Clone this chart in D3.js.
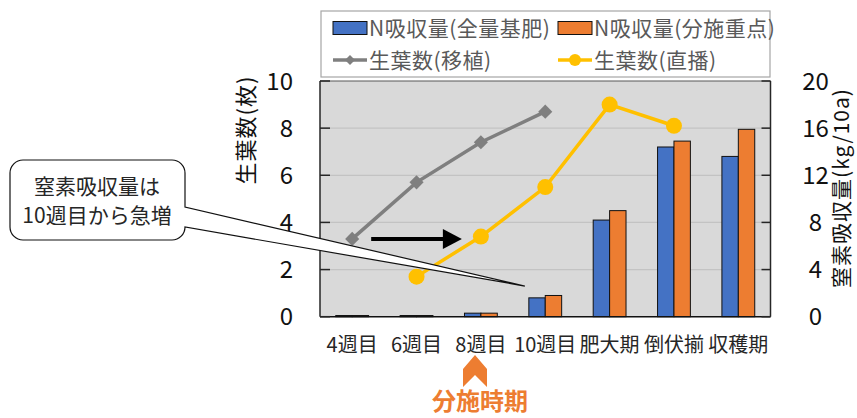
<!DOCTYPE html>
<html>
<head>
<meta charset="utf-8">
<script src="https://cdn.jsdelivr.net/npm/d3@7"></script>
<style>
  body { margin: 0; background: #fff; }
  text { font-family: "Noto Sans CJK JP", "Noto Sans", sans-serif; }
</style>
</head>
<body>
<svg id="vis-svg"></svg>
<script>
// categories and series
const categories = ["4週目", "6週目", "8週目", "10週目", "肥大期", "倒伏揃", "収穫期"];
const nBasal = [0.1, 0.1, 0.3, 1.6, 8.2, 14.4, 13.6];      // N吸収量(全量基肥) kg/10a
const nSplit = [0.1, 0.1, 0.3, 1.8, 9.0, 14.9, 15.9];      // N吸収量(分施重点) kg/10a
const leavesTransplant = [3.3, 5.7, 7.4, 8.7, null, null, null];  // 生葉数(移植)
const leavesDirect = [null, 1.7, 3.4, 5.5, 9.0, 8.1, null];       // 生葉数(直播)
const leftTicks = [0, 2, 4, 6, 8, 10];
const rightTicks = [0, 4, 8, 12, 16, 20];

const W = 857, H = 418;
const margin = {top: 81, left: 320},
      width = 450.5,
      height = 235.7;

const svg = d3.select("#vis-svg").attr("width", W).attr("height", H);
const g = svg.append("g").attr("transform", "translate(" + margin.left + "," + margin.top + ")");

// scales
const x0 = d3.scaleBand().domain(categories).range([0, width]).paddingInner(0.49).paddingOuter(0.245);
const x1 = d3.scaleBand().domain(["basal", "split"]).range([0, x0.bandwidth()]);
const yL = d3.scaleLinear().domain([0, 10]).range([height, 0]);
const yR = d3.scaleLinear().domain([0, 20]).range([height, 0]);
const xc = c => x0(c) + x0.bandwidth() / 2;

// plot area
g.append("rect").attr("width", width).attr("height", height).attr("fill", "#d9d9d9");

// gridlines
g.selectAll(".grid")
    .data(leftTicks.filter(d => d > 0 && d < 10))
  .enter().append("line")
    .attr("x1", 0).attr("x2", width)
    .attr("y1", d => yL(d)).attr("y2", d => yL(d))
    .attr("stroke", "#c3c3c3").attr("stroke-width", 1.2);

// bars
const barData = categories.map((c, i) => ({cat: c, vals: [{k: "basal", v: nBasal[i]}, {k: "split", v: nSplit[i]}]}));
const colors = {basal: "#4472C4", split: "#ED7D31"};
g.selectAll(".grp")
    .data(barData)
  .enter().append("g")
    .attr("transform", d => "translate(" + x0(d.cat) + ",0)")
  .selectAll("rect")
    .data(d => d.vals)
  .enter().append("rect")
    .attr("x", d => x1(d.k))
    .attr("y", d => yR(d.v))
    .attr("width", x1.bandwidth())
    .attr("height", d => height - yR(d.v))
    .attr("fill", d => colors[d.k])
    .attr("stroke", "#111").attr("stroke-width", 1);

// border / axes
g.append("line").attr("x1", 0).attr("x2", width).attr("y1", 0).attr("y2", 0).attr("stroke", "#595959").attr("stroke-width", 1.2);
g.append("line").attr("x1", 0).attr("x2", 0).attr("y1", 0).attr("y2", height).attr("stroke", "#262626").attr("stroke-width", 1.5);
g.append("line").attr("x1", width).attr("x2", width).attr("y1", 0).attr("y2", height).attr("stroke", "#262626").attr("stroke-width", 1.5);
g.append("line").attr("x1", 0).attr("x2", width).attr("y1", height).attr("y2", height).attr("stroke", "#111").attr("stroke-width", 1.5);

// inward ticks
g.selectAll(".tl").data(leftTicks).enter().append("line")
    .attr("x1", 0).attr("x2", 10).attr("y1", d => yL(d)).attr("y2", d => yL(d))
    .attr("stroke", "#262626").attr("stroke-width", 1.5);
g.selectAll(".tr").data(rightTicks).enter().append("line")
    .attr("x1", width - 9).attr("x2", width).attr("y1", d => yR(d)).attr("y2", d => yR(d))
    .attr("stroke", "#262626").attr("stroke-width", 1.5);

// tick labels
g.selectAll(".ll").data(leftTicks).enter().append("text")
    .attr("x", -27).attr("y", d => yL(d)).attr("dy", "0.36em")
    .attr("text-anchor", "end").attr("font-size", 24).attr("fill", "#111")
    .text(d => d);
g.selectAll(".rl").data(rightTicks).enter().append("text")
    .attr("x", width + 45).attr("y", d => yR(d)).attr("dy", "0.36em")
    .attr("text-anchor", "middle").attr("font-size", 24).attr("fill", "#111")
    .text(d => d);
g.selectAll(".xl").data(categories).enter().append("text")
    .attr("x", d => xc(d)).attr("y", height + 35)
    .attr("text-anchor", "middle").attr("font-size", 20).attr("fill", "#262626")
    .text(d => d);

// axis titles
svg.append("text")
    .attr("transform", "translate(254,130) rotate(-90)")
    .attr("text-anchor", "middle").attr("font-size", 22).attr("fill", "#111")
    .attr("letter-spacing", 1)
    .text("生葉数(枚)");
svg.append("text")
    .attr("transform", "translate(849,188) rotate(-90)")
    .attr("text-anchor", "middle").attr("font-size", 21).attr("fill", "#111")
    .attr("letter-spacing", 1)
    .text("窒素吸収量(kg/10a)");

// callout bubble (drawn under the lines)
const bx0 = 10, by0 = 160, bx1 = 185, by1 = 240, r = 13;
const tipX = x0("10週目") - 4 + margin.left, tipY = yR(2.6) + margin.top;
svg.append("path")
    .attr("d", "M" + (bx0 + r) + "," + by0 + " H" + (bx1 - r) +
        " A" + r + "," + r + " 0 0 1 " + bx1 + "," + (by0 + r) +
        " V207 L" + tipX + "," + tipY + " L" + bx1 + ",227" +
        " V" + (by1 - r) + " A" + r + "," + r + " 0 0 1 " + (bx1 - r) + "," + by1 +
        " H" + (bx0 + r) + " A" + r + "," + r + " 0 0 1 " + bx0 + "," + (by1 - r) +
        " V" + (by0 + r) + " A" + r + "," + r + " 0 0 1 " + (bx0 + r) + "," + by0 + " Z")
    .attr("fill", "#fff").attr("stroke", "#111").attr("stroke-width", 1.2);
svg.append("text").attr("x", 97).attr("y", 194).attr("text-anchor", "middle")
    .attr("font-size", 21).attr("fill", "#262626").text("窒素吸収量は");
svg.append("text").attr("x", 97).attr("y", 223).attr("text-anchor", "middle")
    .attr("font-size", 21).attr("fill", "#262626").text("10週目から急増");

// lines
function drawLine(vals, color, marker) {
    const pts = categories.map((c, i) => ({cat: c, v: vals[i]})).filter(d => d.v != null);
    const line = d3.line().x(d => xc(d.cat)).y(d => yL(d.v));
    g.append("path").datum(pts).attr("d", line)
        .attr("fill", "none").attr("stroke", color).attr("stroke-width", 3.5);
    if (marker === "diamond") {
        g.selectAll(null).data(pts).enter().append("path")
            .attr("d", d3.symbol(d3.symbolSquare, 100))
            .attr("transform", d => "translate(" + xc(d.cat) + "," + yL(d.v) + ") rotate(45)")
            .attr("fill", color);
    } else {
        g.selectAll(null).data(pts).enter().append("circle")
            .attr("cx", d => xc(d.cat)).attr("cy", d => yL(d.v)).attr("r", 8)
            .attr("fill", color);
    }
}
drawLine(leavesTransplant, "#7f7f7f", "diamond");
drawLine(leavesDirect, "#FFC000", "circle");

// black arrow (移植 -> 直播 shift)
const ay = yL(leavesTransplant[0]);
const ax1 = xc("4週目") + 19, ax2 = xc("8週目") - 19;
g.append("line").attr("x1", ax1).attr("x2", ax2 - 17).attr("y1", ay).attr("y2", ay)
    .attr("stroke", "#000").attr("stroke-width", 4);
g.append("path")
    .attr("d", "M" + ax2 + "," + ay + " L" + (ax2 - 19) + "," + (ay - 10) + " L" + (ax2 - 19) + "," + (ay + 10) + " Z")
    .attr("fill", "#000");

// orange marker under 8週目
svg.append("path")
    .attr("d", "M475,355 L487,369 L487,387 L475,375 L463,387 L463,369 Z")
    .attr("fill", "#ED7D31");
svg.append("text").attr("x", 480).attr("y", 410).attr("text-anchor", "middle")
    .attr("font-size", 24).attr("font-weight", "bold").attr("fill", "#ED7D31")
    .text("分施時期");

// legend
const lg = svg.append("g");
lg.append("rect").attr("x", 321).attr("y", 11).attr("width", 449).attr("height", 66)
    .attr("fill", "#fff").attr("stroke", "#a6a6a6").attr("stroke-width", 1.2);
const legendItems = [
    {label: "N吸収量(全量基肥)", type: "bar", color: "#4472C4", x: 333, y: 28},
    {label: "N吸収量(分施重点)", type: "bar", color: "#ED7D31", x: 558, y: 28},
    {label: "生葉数(移植)", type: "diamond", color: "#7f7f7f", x: 333, y: 60},
    {label: "生葉数(直播)", type: "circle", color: "#FFC000", x: 558, y: 60}
];
legendItems.forEach(d => {
    if (d.type === "bar") {
        lg.append("rect").attr("x", d.x).attr("y", d.y - 6.5).attr("width", 34).attr("height", 13)
            .attr("fill", d.color).attr("stroke", "#111").attr("stroke-width", 1);
    } else {
        lg.append("line").attr("x1", d.x).attr("x2", d.x + 34).attr("y1", d.y).attr("y2", d.y)
            .attr("stroke", d.color).attr("stroke-width", 3.5);
        if (d.type === "diamond") {
            lg.append("path").attr("d", d3.symbol(d3.symbolSquare, 50))
                .attr("transform", "translate(" + (d.x + 17) + "," + d.y + ") rotate(45)")
                .attr("fill", d.color);
        } else {
            lg.append("circle").attr("cx", d.x + 17).attr("cy", d.y).attr("r", 6).attr("fill", d.color);
        }
    }
    lg.append("text").attr("x", d.x + 36).attr("y", d.y).attr("dy", "0.36em")
        .attr("font-size", 21).attr("letter-spacing", 0.5).attr("fill", "#595959").text(d.label);
});
</script>
</body>
</html>
